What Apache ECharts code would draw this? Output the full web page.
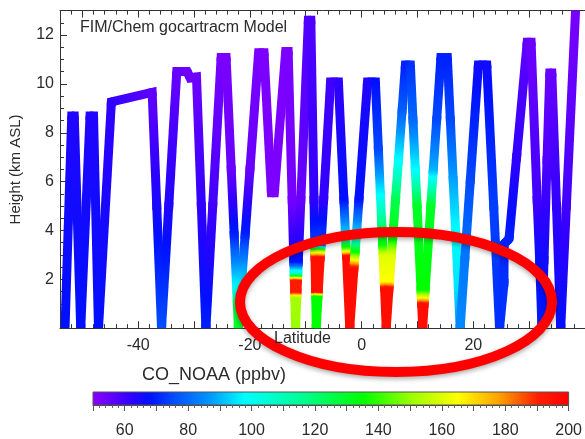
<!DOCTYPE html>
<html><head><meta charset="utf-8">
<script src="https://cdn.jsdelivr.net/npm/echarts@6/dist/echarts.min.js"></script>
<style>html,body{margin:0;padding:0;background:#fff}#c{width:585px;height:439px}</style>
</head><body><div id="c"></div>
<script>
// Flight track: latitude (deg), height (km ASL), CO (ppbv) at each vertex
const latitude = [
 -53.1,-51.9,-51.45,-50.29,-48.62,-48.0,-47.11,-44.8,-37.5,-36.68,-35.82,-34.53,-33.09,-31.23,-30.7,-29.56,-28.69,-27.88,-26.66,-25.15,
 -24.26,-23.34,-22.81,-22.35,-22.24,-22.06,-21.77,-21.59,-20.85,-19.99,-18.44,-17.47,-16.15,-15.62,-13.59,-13.15,
 -12.43,-12.13,-12.07,-12.04,-11.98,-11.96,-11.82,-11.61,-11.57,-11.48,-11.43,-11.34,-10.88,-9.53,-9.09,
 -8.52,-8.38,-8.36,-8.34,-8.23,-8.21,-8.12,-7.81,-7.77,-7.4,-7.32,-7.27,-6.8,-5.56,-4.15,
 -3.17,-2.88,-2.77,-2.7,-2.12,-1.37,-1.26,-1.16,-0.93,-0.48,1.06,2.47,
 3.01,3.37,3.61,3.77,3.85,4.06,4.11,4.41,4.91,4.99,5.34,5.54,6.07,6.6,7.26,7.85,8.73,
 9.2,9.62,9.92,10.64,10.7,10.75,10.94,11.21,11.28,11.37,12.41,12.83,13.44,14.2,15.35,
 15.89,16.4,16.83,17.34,17.65,18.47,19.47,20.91,22.41,
 23.65,24.7,25.5,25.5,26.4,27.75,29.65,30.35,
 31.43,31.9,32.29,32.66,33.2,33.7,34.06,34.9,35.65,36.66,38.4
];
const heightKm = [
 0,8.69,8.69,0,8.69,8.69,0,9.26,9.65,5.0,0,5.0,10.51,10.51,10.24,10.28,5.0,0,5.0,11.08,
 11.08,6.5,3.82,1.56,1.0,0,1.0,1.56,3.82,6.5,11.27,11.27,5.54,5.54,11.33,11.33,
 5.25,2.71,2.22,1.97,1.47,1.26,0,1.26,1.47,1.97,2.22,2.71,5.25,12.6,12.6,
 5.25,3.41,3.2,2.91,1.47,1.31,0,1.31,1.47,2.91,3.2,3.41,5.25,10.08,10.08,
 5.25,3.82,3.28,2.96,0,2.46,2.79,3.12,3.82,5.25,10.08,10.08,
 7.3,5.45,4.23,3.41,3.0,1.9,1.65,0,1.65,1.9,3.0,3.61,5.25,6.88,8.93,10.77,10.77,
 8.52,6.48,5.04,1.56,1.24,1.0,0,1.0,1.24,1.56,5.04,6.48,8.52,11.08,11.08,
 8.52,6.07,4.02,1.56,0,2.79,6.07,10.77,10.77,
 5.0,0,1.85,3.45,3.65,7.0,11.7,11.7,
 5.25,2.7,0,2.79,6.88,10.45,10.45,5.0,0,5.0,13.43
];
const coPpbv = [
 68,64,64,68,64,64,68,62,56,65,76,64,55,54,54,54,62,70,60,52,
 52,55,70,100,125,130,125,100,70,55,52,52,52,52,52,52,
 53,68,110,192,192,152,150,152,192,192,110,68,55,58,58,
 62,75,145,195,195,135,135,135,195,195,145,75,62,60,62,
 68,95,140,196,196,196,165,135,95,68,64,68,
 75,98,120,135,160,165,196,196,196,165,160,135,125,98,78,70,72,
 80,98,130,135,165,196,196,196,165,135,130,90,75,70,70,
 75,88,98,95,85,82,75,66,66,
 74,72,72,70,70,62,56,54,
 60,68,70,66,58,55,55,62,68,60,52
];
const xTickLabels = [-40,-20,0,20];
const xMajorTicks = [-50,-40,-30,-20,-10,0,10,20,30,40];
const xMinorTicks = [];
for (let v=-54; v<=40; v+=2) xMinorTicks.push(v);
const yTickLabels = [2,4,6,8,10,12];
const cbTickLabels = [60,80,100,120,140,160,180,200];

// colour table (rainbow) for CO
const cmap = [[50,'#8800ff'],[56,'#6000ff'],[62,'#3000ff'],[68,'#0010ff'],[76,'#0050ff'],[86,'#0090ff'],
 [98,'#00ffff'],[115,'#00ff99'],[135,'#00ff00'],[150,'#99ff00'],[165,'#ffff00'],[178,'#ffa000'],[190,'#ff2000'],[200,'#ff0000']];
function hex2rgb(h){return [parseInt(h.substr(1,2),16),parseInt(h.substr(3,2),16),parseInt(h.substr(5,2),16)];}
function colorOf(v){
  if (v<=cmap[0][0]) return cmap[0][1];
  for (let i=1;i<cmap.length;i++){
    if (v<=cmap[i][0]){
      const t=(v-cmap[i-1][0])/(cmap[i][0]-cmap[i-1][0]);
      const a=hex2rgb(cmap[i-1][1]), b=hex2rgb(cmap[i][1]);
      return 'rgb('+a.map((x,k)=>Math.round(x+(b[k]-x)*t)).join(',')+')';
    }
  }
  return cmap[cmap.length-1][1];
}

// one item per segment: start, end, and the following vertex (for the joint)
const segs = [];
for (let i=0;i<latitude.length-1;i++) {
  const j = Math.min(i+2, latitude.length-1);
  segs.push([latitude[i],heightKm[i],coPpbv[i],latitude[i+1],heightKm[i+1],coPpbv[i+1],latitude[j],heightKm[j]]);
}

const LW = 9;
function stepTo(a, b, d){
  const dx=b[0]-a[0], dy=b[1]-a[1], L=Math.hypot(dx,dy)||1;
  const s=Math.min(d, L*0.5);
  return [a[0]+dx/L*s, a[1]+dy/L*s];
}

const FONT = '"Liberation Sans", Arial, sans-serif';
const TXT = '#2b2b2b';
const chart = echarts.init(document.getElementById('c'), null, {renderer:'canvas'});
const axisLine = {show:true, onZero:false, lineStyle:{color:'#333', width:1}};
const noLine = {show:false, onZero:false};
chart.setOption({
  animation:false,
  backgroundColor:'#fff',
  grid:[
    {left:59, top:10.6, width:532.7, height:317.6},
    {left:93, top:392, width:480, height:15}
  ],
  xAxis:[
    {type:'value', gridIndex:0, position:'bottom', min:-54, max:40, axisLine:axisLine, splitLine:{show:false},
     axisTick:{show:true, inside:true, length:7, customValues:xMajorTicks, lineStyle:{color:'#333'}},
     axisLabel:{customValues:xTickLabels, fontSize:16, color:TXT, fontFamily:FONT, margin:9}},
    {type:'value', gridIndex:0, position:'bottom', min:-54, max:40, axisLine:noLine, splitLine:{show:false},
     axisTick:{show:true, inside:true, length:4, customValues:xMinorTicks, lineStyle:{color:'#333'}},
     axisLabel:{show:false}},
    {type:'value', gridIndex:0, position:'top', min:-54, max:40, axisLine:axisLine, splitLine:{show:false},
     axisTick:{show:true, inside:true, length:7, customValues:xMajorTicks, lineStyle:{color:'#333'}},
     axisLabel:{show:false}},
    {type:'value', gridIndex:0, position:'top', min:-54, max:40, axisLine:noLine, splitLine:{show:false},
     axisTick:{show:true, inside:true, length:4, customValues:xMinorTicks, lineStyle:{color:'#333'}},
     axisLabel:{show:false}},
    {type:'value', gridIndex:1, position:'bottom', min:50, max:200, interval:10,
     axisLine:{show:true, onZero:false, lineStyle:{color:'#444'}}, splitLine:{show:false},
     axisTick:{show:true, inside:false, length:6, lineStyle:{color:'#555'}},
     minorTick:{show:true, splitNumber:5, length:3, lineStyle:{color:'#666'}},
     axisLabel:{fontSize:16, color:TXT, fontFamily:FONT, margin:18,
       formatter:v=>cbTickLabels.indexOf(v)>=0 ? String(v) : ''}}
  ],
  yAxis:[
    {type:'value', gridIndex:0, position:'left', min:0, max:13, interval:2, axisLine:axisLine, splitLine:{show:false},
     axisTick:{show:true, inside:true, length:7, lineStyle:{color:'#333'}},
     minorTick:{show:true, splitNumber:4, length:4, lineStyle:{color:'#333'}},
     axisLabel:{fontSize:16, color:TXT, fontFamily:FONT, margin:6,
       formatter:v=>yTickLabels.indexOf(v)>=0 ? String(v) : ''},
     name:'Height (km ASL)', nameLocation:'middle', nameGap:37, nameRotate:90,
     nameTextStyle:{fontSize:15, color:TXT, fontFamily:FONT}},
    {type:'value', gridIndex:1, min:0, max:1, show:false, axisLine:noLine}
  ],
  series:[
    {type:'custom', xAxisIndex:0, yAxisIndex:0, clip:true, data:segs, encode:{x:[0,3], y:[1,4]},
     renderItem:function(params, api){
       const p0 = api.coord([api.value(0), api.value(1)]);
       const p1 = api.coord([api.value(3), api.value(4)]);
       const p2 = api.coord([api.value(6), api.value(7)]);
       const c0 = api.value(2), c1 = api.value(5);
       const stops=[]; const n=10;
       for (let k=0;k<=n;k++) stops.push({offset:k/n, color:colorOf(c0+(c1-c0)*k/n)});
       const children = [];
       if (api.value(6) !== api.value(3) || api.value(7) !== api.value(4)) {
         const a = stepTo(p1, p0, 4), b = stepTo(p1, p2, 4);
         children.push({type:'polyline', shape:{points:[a, p1, b]},
           style:{stroke:colorOf(c1), lineWidth:LW, lineJoin:'miter', miterLimit:4, lineCap:'butt', fill:null}});
       }
       children.push({type:'line', shape:{x1:p0[0],y1:p0[1],x2:p1[0],y2:p1[1]},
         style:{stroke:{type:'linear', x:p0[0], y:p0[1], x2:p1[0], y2:p1[1], colorStops:stops, global:true},
                lineWidth:LW, lineCap:'butt', fill:null}});
       return {type:'group', children:children};
     }},
    {type:'custom', xAxisIndex:4, yAxisIndex:1, data:[[50,0,200,1]], encode:{x:[0,2], y:[1,3]},
     renderItem:function(params, api){
       const a = api.coord([api.value(0), api.value(1)]);
       const b = api.coord([api.value(2), api.value(3)]);
       const stops = cmap.map(s=>({offset:(s[0]-50)/150, color:s[1]}));
       return {type:'rect', shape:{x:a[0], y:b[1], width:b[0]-a[0], height:a[1]-b[1]},
         style:{fill:{type:'linear', x:0, y:0, x2:1, y2:0, colorStops:stops}, stroke:'#555', lineWidth:1}};
     }}
  ],
  graphic:[
    {type:'text', left:80, top:20, style:{text:'FIM/Chem gocartracm Model', fontSize:16, fill:TXT, fontFamily:FONT}},
    {type:'ellipse', z:100, shape:{cx:396, cy:302, rx:156, ry:70},
     style:{fill:'transparent', stroke:'#ff0000', lineWidth:10, shadowBlur:5, shadowColor:'rgba(0,0,0,0.35)', shadowOffsetY:2}},
    {type:'text', z:101, left:274, top:331, style:{text:'Latitude', fontSize:16, fill:TXT, fontFamily:FONT}},
    {type:'text', left:142, top:366, style:{text:'CO_NOAA (ppbv)', fontSize:18, fill:TXT, fontFamily:FONT}}
  ]
});
</script></body></html>
